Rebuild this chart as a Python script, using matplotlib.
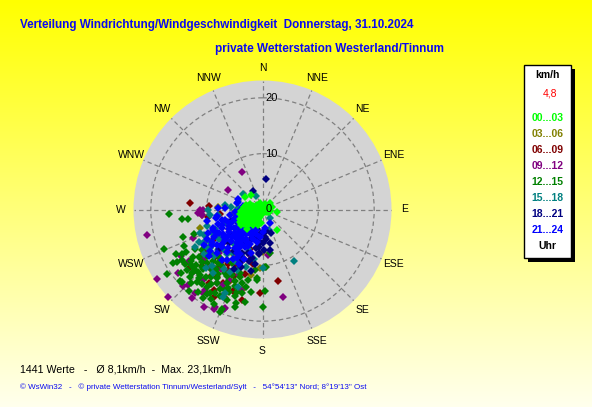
import numpy as np
import matplotlib
matplotlib.use('Agg')
import matplotlib.pyplot as plt
from matplotlib.patches import Rectangle
from matplotlib.transforms import offset_copy

plt.rcParams['font.family'] = ['Liberation Sans', 'DejaVu Sans']

W, H = 592, 407

# wind direction (deg) / wind speed (km/h) per time window
pts_00_03 = [(0, 0.5), (45, 0.8), (90, 0.6), (135, 0.7), (180, 0.6), (225, 0.9), (270, 0.7),
             (315, 0.8), (340, 1.2), (20, 1.1), (300, 1.3), (250, 1.5), (230, 1.6), (210, 1.4),
             (240, 2.0), (225, 2.2), (215, 2.4), (235, 2.6), (245, 2.8), (230, 3.0), (220, 3.1),
             (240, 3.3), (232, 3.6), (228, 4.0), (237, 4.3), (222, 3.8), (250, 2.4), (255, 1.8),
             (260, 2.2), (205, 2.0), (200, 1.5), (195, 2.8), (210, 3.3), (218, 4.4), (232, 1.2),
             (120, 1.0), (100, 1.4), (60, 1.3), (290, 1.9),
             (275, 1.5), (322, 3.3), (305, 3.8), (294, 2.4), (100, 2.6), (146, 4.5), (110, 1.2),
             (260, 3.0), (248, 3.8), (242, 4.6), (212, 2.8), (185, 2.5), (50, 1.7), (75, 1.8),
             (236, 3.9), (226, 2.7), (244, 3.5), (252, 3.1), (218, 2.0), (234, 4.8), (240, 4.1),
             (246, 4.4), (252, 3.8), (256, 3.3), (262, 2.7), (268, 2.4), (275, 2.5), (282, 2.1),
             (286, 1.4), (238, 4.6), (233, 4.2), (226, 3.4), (216, 1.9), (206, 1.1), (243, 1.2),
             (265, 1.2), (310, 1.3), (286, 3.0), (278, 3.4), (266, 3.9), (258, 4.2)]
pts_03_06 = [(263, 5.1), (231, 13.7), (253.5, 11.6), (182.5, 10.5), (194, 14.6), (204.5, 14.0),
             (273, 8.0), (179, 7.6), (231, 8.6), (220, 4.8), (202, 5.9), (205, 10.3), (215, 9.5),
             (190, 12.0)]
pts_06_09 = [(275, 13.0), (274, 9.6), (168, 13.1), (182, 14.9), (262, 9.8), (233, 13.9),
             (265, 10.8), (264, 7.6), (218, 15.1), (209, 17.9), (193, 16.6), (205, 14.2),
             (231.6, 16.5), (215, 8.0), (220, 10.0), (205, 11.0), (210, 12.5), (225, 12.0),
             (230, 9.0), (200, 9.5), (195, 12.0), (212, 6.5), (235, 11.0), (240, 7.0),
             (222, 14.0), (208, 15.0), (190, 10.0), (217, 13.0), (198, 7.5), (212, 11.5),
             (218, 12.0), (203, 13.0), (226, 10.5), (214, 14.5), (200, 15.5), (224, 11.5),
             (229, 12.1), (234, 12.7), (219, 9.7), (239, 10.2), (216, 16.2), (211, 16.8),
             (203, 17.2), (227, 14.8)]
pts_09_12 = [(257.5, 21.1), (236.6, 22.6), (227, 23.1), (167, 16.0), (331, 7.6), (299, 7.1),
             (206, 19.5), (218.5, 20.2), (224.6, 18.9), (201, 18.8), (267, 11.5), (173, 8.2),
             (215.5, 17.7), (206, 19.8), (201, 19.0), (215.5, 18.3), (207.6, 15.2), (247.7, 13.4),
             (270, 10.6), (265, 10.8), (195, 8.4), (225, 11.0), (215, 13.0), (205, 14.0),
             (230, 14.0), (240, 12.0), (210, 10.0), (195, 15.0), (235, 16.0), (220, 16.5),
             (200, 12.5), (270, 11.2), (212, 15.5), (222, 13.5), (228, 16.8), (205, 17.0),
             (226, 19.8), (219, 19.3), (211, 20.4), (233, 18.9), (240, 16.8)]
pts_12_15 = [(267, 16.7), (263, 14.5), (263, 13.4), (251, 15.0), (248, 19.0), (241, 16.5),
             (229, 19.6), (180, 17.4), (178, 14.6), (170, 7.9), (196, 18.1), (202.5, 19.8),
             (191, 16.8), (238, 16.9), (238.4, 17.9), (232.5, 16.2), (228, 16.2), (228, 19.5),
             (223.7, 16.2), (213.6, 14.7), (198.4, 12.7), (184.5, 12.6), (177.5, 10.3), (236, 13.0),
             (237, 12.3), (228, 16.9), (223, 16.8), (215.6, 17.0), (212, 17.6), (202, 19.3),
             (197, 15.4), (196, 17.4), (191.6, 12.9), (184.6, 12.3), (187, 10.9), (176.5, 10.3),
             (199.5, 12.0), (204, 15.4), (230.4, 16.1), (226.5, 14.9), (220, 15.8), (209.6, 17.2),
             (193.8, 15.4), (201.4, 17.4), (210, 11.0), (220, 12.5), (230, 13.0), (215, 14.0),
             (225, 15.0), (240, 14.0), (205, 16.0), (235, 17.0), (245, 15.5), (250, 13.0),
             (236, 20.7), (232, 18.5), (218, 18.8), (208, 13.5), (205, 13.0), (212, 15.5),
             (218, 13.5), (222, 17.5), (226, 13.8), (230, 15.5), (233, 14.2), (210, 18.5),
             (200, 14.5), (196, 13.6), (215, 16.2), (220, 14.2), (227, 17.8), (224, 12.7),
             (206, 17.3), (206, 14.6), (211, 13.2), (216, 12.4), (221, 11.6), (226, 16.1),
             (231, 17.3), (236, 15.1), (241, 15.6), (208, 16.2), (213, 18.1), (219, 17.2),
             (224, 18.4), (229, 14.3), (202, 15.9), (198, 16.2), (214, 19.2), (207, 19.0),
             (234, 15.8), (243, 17.4), (239, 18.6), (222, 19.6), (217, 15.2), (201, 13.7),
             (192, 14.1), (188, 15.0)]
pts_15_18 = [(308, 4.4), (334, 2.7), (149, 10.8), (162.5, 3.8), (273, 4.4), (274.5, 5.6),
             (270, 9.7), (264, 9.4), (263, 8.0), (249.4, 11.9), (240.6, 12.2), (234, 11.6),
             (276.8, 6.7), (254, 1.0), (139, 2.0), (180, 10.4), (196, 10.7), (204, 16.3),
             (204.3, 17.1), (197.5, 14.5), (202.8, 11.7), (207.5, 12.6), (210, 7.0), (220, 8.0),
             (230, 6.0), (240, 9.0), (225, 10.0), (200, 7.5), (215, 11.0), (235, 12.0),
             (245, 10.0), (250, 7.0), (205, 9.0), (222, 13.5), (190, 9.0), (214, 9.5),
             (226, 12.0), (208, 10.5), (236, 9.5), (218, 14.5), (228, 10.8), (233, 13.2),
             (238, 11.0), (243, 12.8), (246, 11.4), (231, 12.2), (224, 14.5), (219, 10.2),
             (241, 13.8), (213, 12.8), (248, 9.2), (253, 10.4)]
pts_18_21 = [(7, 5.5), (333, 3.8), (167, 6.1), (173, 5.3), (184.4, 5.8), (202, 5.9), (169.5, 7.4),
             (171, 3.9), (184, 7.8), (192, 8.9), (202.8, 10.4), (200, 5.0), (210, 6.5), (190, 7.0),
             (220, 5.5), (230, 7.0), (205, 8.5), (195, 9.5), (215, 9.0), (185, 8.0), (240, 5.0),
             (225, 8.5), (200, 11.0), (180, 6.0), (175, 5.0), (210, 3.5), (235, 4.0), (160, 4.5),
             (250, 6.0), (228, 10.5), (186, 6.8), (193, 5.4), (198, 8.2), (203, 9.6), (188, 9.8),
             (178, 7.2), (183, 4.2), (196, 3.6), (191, 11.2), (206, 11.8)]
pts_21_24 = [(293, 4.8), (272, 6.7), (272, 8.0), (262, 8.2), (287, 4.6), (151, 2.8), (172, 3.4),
             (284, 4.7), (246.7, 10.6), (200, 3.0), (210, 3.5), (220, 3.0), (230, 3.5), (240, 3.0),
             (250, 3.5), (195, 4.5), (205, 5.0), (215, 4.5), (225, 5.0), (235, 5.5), (245, 5.0),
             (255, 4.5), (190, 6.0), (200, 6.5), (210, 6.0), (220, 7.0), (230, 6.5), (240, 7.0),
             (250, 6.5), (260, 6.0), (195, 8.0), (205, 7.5), (215, 8.5), (225, 8.0), (235, 8.5),
             (245, 8.0), (255, 7.5), (200, 9.5), (210, 9.0), (220, 10.0), (230, 9.5), (240, 10.0),
             (250, 9.5), (215, 11.0), (235, 11.0), (265, 5.0), (270, 4.0), (185, 5.0), (180, 4.0),
             (260, 8.5), (225, 2.0), (205, 2.2), (245, 2.0), (212, 7.3), (228, 4.2), (238, 6.1),
             (218, 5.6), (207, 8.9), (243, 9.2), (280, 3.5), (258, 10.2), (232, 12.0),
             (198, 3.8), (203, 4.2), (208, 4.8), (213, 5.3), (218, 6.2), (223, 6.6), (228, 7.4),
             (233, 7.8), (238, 8.3), (242, 8.8), (247, 9.6), (252, 8.4), (197, 5.6), (202, 7.1),
             (207, 6.4), (212, 8.1), (217, 7.6), (222, 9.2), (227, 9.8), (232, 10.4), (237, 10.7),
             (242, 11.2), (227, 5.8), (232, 4.9), (237, 4.1), (242, 4.4), (247, 5.9), (252, 5.2),
             (222, 4.1), (217, 3.6), (213, 2.6), (208, 9.9), (203, 10.6), (219, 11.6), (226, 11.3),
             (236, 7.2), (231, 8.6), (224, 6.4), (214, 6.9), (244, 6.7), (249, 7.8), (254, 6.9),
             (239, 12.3), (229, 12.6), (211, 10.3)]

time_bins = ['00...03', '03...06', '06...09', '09...12', '12...15', '15...18', '18...21', '21...24']
bin_colors = ['#00ff00', '#808000', '#800000', '#800080', '#008000', '#008080', '#000080', '#0000ff']
point_sets = [pts_00_03, pts_03_06, pts_06_09, pts_09_12, pts_12_15, pts_15_18, pts_18_21, pts_21_24]

compass = ['N', 'NNE', 'NE', 'ENE', 'E', 'ESE', 'SE', 'SSE',
           'S', 'SSW', 'SW', 'WSW', 'W', 'WNW', 'NW', 'NNW']
ring_values = [0, 10, 20]
r_max = 23.1
mean_speed_now = '4,8'

title1 = 'Verteilung Windrichtung/Windgeschwindigkeit  Donnerstag, 31.10.2024'
title2 = 'private Wetterstation Westerland/Tinnum'
stats_line = '1441 Werte   -   \u00d8 8,1km/h  -  Max. 23,1km/h'
footer = ('\u00a9 WsWin32   -   \u00a9 private Wetterstation Tinnum/Westerland/Sylt   -   '
          '54\u00b054\'13" Nord; 8\u00b019\'13" Ost')


def fx(x):
    return x / W


def fy(y):
    return 1 - y / H


fig = plt.figure(figsize=(W / 100, H / 100), dpi=100)

# yellow gradient background
bg = fig.add_axes([0, 0, 1, 1], zorder=0)
t = np.linspace(0, 1, 256)[:, None, None]
top = np.array([1.0, 1.0, 0.0])
bottom = np.array([1.0, 1.0, 0.93])
bg.imshow(top + (bottom - top) * t, aspect='auto', extent=[0, 1, 0, 1])
bg.set_axis_off()

# polar plot, centre at (262.5, 209.5) px, radius 129 px
cx, cy, rad = 262.5, 209.5, 129
ax = fig.add_axes([fx(cx - rad), fy(cy + rad), 2 * rad / W, 2 * rad / H],
                  projection='polar', zorder=1)
ax.set_facecolor('#d4d4d4')
ax.set_theta_zero_location('N')
ax.set_theta_direction(-1)
ax.set_ylim(0, r_max)
ax.set_xticks(np.deg2rad(np.arange(16) * 22.5))
ax.set_xticklabels([])
ax.set_yticks([10, 20])
ax.set_yticklabels([])
ax.tick_params(length=0)
ax.grid(True, color='#808080', lw=0.9, ls=(0, (3.5, 2.5)))
ax.spines['polar'].set_visible(False)

for k, (pts, col) in enumerate(zip(point_sets, bin_colors)):
    d = np.deg2rad([p[0] for p in pts])
    s = [p[1] for p in pts]
    # the calm night points sit on top near the centre
    z = 3 if k == 0 else 2
    ax.plot(d, s, ls='none', marker='D', ms=3.6, color=col, mew=0, clip_on=False, zorder=z)

for i, name in enumerate(compass):
    ax.text(np.deg2rad(i * 22.5), 25.4, name, ha='center', va='center',
            fontsize=7.5, clip_on=False)

tr = offset_copy(ax.transData, fig=fig, x=3, y=0, units='dots')
for v in ring_values:
    ax.text(0, v, str(v), transform=tr, ha='left', va='center', fontsize=8, zorder=4)

# titles
fig.text(fx(20), fy(25), title1, color='#0a0af0', fontweight='bold', fontsize=8.4,
         va='center', ha='left')
fig.text(fx(215), fy(49), title2, color='#0a0af0', fontweight='bold', fontsize=8.45,
         va='center', ha='left')

# legend box with shadow
bx0, by0, bx1, by1 = 524, 65, 571, 258
fig.patches.append(Rectangle((fx(bx0 + 4), fy(by1 + 4)), (bx1 - bx0) / W, (by1 - by0) / H,
                             transform=fig.transFigure, facecolor='black', edgecolor='none',
                             zorder=2))
fig.patches.append(Rectangle((fx(bx0), fy(by1)), (bx1 - bx0) / W, (by1 - by0) / H,
                             transform=fig.transFigure, facecolor='white', edgecolor='black',
                             lw=1, zorder=3))
lx = fx(547.5)
fig.text(lx, fy(75), 'km/h', ha='center', va='center', fontsize=7.5, fontweight='bold',
         color='black', zorder=4)
fig.text(fx(550), fy(93), mean_speed_now, ha='center', va='center', fontsize=7.5,
         color='#ff0000', zorder=4)
for k, (lab, col) in enumerate(zip(time_bins, bin_colors)):
    fig.text(lx, fy(118 + 16 * k), lab, ha='center', va='center', fontsize=7.5,
             fontweight='bold', color=col, zorder=4)
fig.text(lx, fy(246), 'Uhr', ha='center', va='center', fontsize=7.5, fontweight='bold',
         color='black', zorder=4)

# bottom text
fig.text(fx(20), fy(370), stats_line, ha='left', va='center', fontsize=7.7, color='black')
fig.text(fx(20), fy(387), footer, ha='left', va='center', fontsize=5.8, color='#0a0af0')

fig.savefig('out.png', dpi=100)
